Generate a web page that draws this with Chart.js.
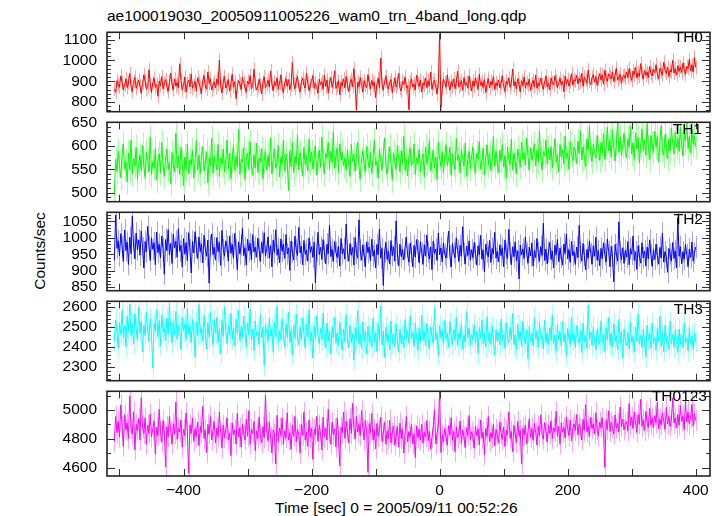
<!DOCTYPE html>
<html><head><meta charset="utf-8">
<script src="https://cdn.jsdelivr.net/npm/chart.js@4/dist/chart.umd.min.js"></script>
<style>
html,body{margin:0;padding:0;background:#fff;}
#wrap{position:relative;width:721px;height:516px;overflow:hidden;font-family:"Liberation Sans",Arial,sans-serif;color:#000;}
.pane{position:absolute;left:0;width:721px;}
.lbl{position:absolute;font-size:15.5px;line-height:1;white-space:nowrap;}
</style></head><body>
<div id="wrap">
<div class="lbl" style="left:107px;top:7.6px;">ae100019030_20050911005226_wam0_trn_4band_long.qdp</div>
<div class="lbl" style="left:40px;top:251px;transform:translate(-50%,-50%) rotate(-90deg);">Counts/sec</div>
<div class="lbl" style="left:275px;top:499.7px;">Time [sec] 0 = 2005/09/11 00:52:26</div>
</div>
<script>
// ---------- data ----------
const timeStart = -508;   // first bin time [s]
const timeStep = 2;       // bin width [s]
const xTickLabels = [-400, -200, 0, 200, 400];

const th0 = [
862,848,903,884,871,926,895,858,880,912,869,891,937,874,850,899,918,866,883,905,
877,842,889,931,902,861,874,955,888,846,893,915,870,884,827,901,879,922,864,890,
908,873,851,896,940,882,859,912,876,893,868,984,903,857,880,921,847,889,906,872,
935,866,881,899,853,917,894,871,840,902,926,877,862,945,889,911,858,880,897,869,
912,884,1002,876,843,895,923,867,881,908,852,889,934,871,898,816,875,903,887,860,
919,894,872,848,901,886,927,863,879,958,891,857,874,910,883,839,897,921,868,885,
904,873,950,886,855,899,878,917,862,891,931,870,846,893,912,876,908,859,882,990,
887,864,901,923,872,849,896,915,881,867,938,890,855,877,903,926,866,892,874,842,
910,884,898,861,929,875,906,843,889,917,870,893,951,865,880,902,834,896,878,912,
868,923,887,850,894,909,873,961,882,762,897,874,918,886,847,903,880,869,932,891,
863,904,879,895,821,888,913,870,1012,884,857,899,925,876,862,894,908,845,883,917,
872,890,939,866,853,901,884,921,868,879,763,897,911,873,886,858,929,892,875,906,
848,893,880,916,869,902,877,944,861,889,905,874,838,897,1130,775,866,910,893,871,
931,885,857,899,876,912,864,890,948,872,883,903,856,918,879,894,867,926,888,853,
902,875,917,889,861,934,880,896,871,908,845,886,913,869,899,882,922,860,893,877,
906,868,891,927,874,852,900,883,916,870,889,959,877,898,863,912,885,849,903,879,
921,867,894,881,909,856,888,904,873,930,866,891,878,915,883,861,897,925,872,890,
859,916,894,881,927,903,870,892,914,883,901,848,925,888,909,876,897,936,882,905,
901,929,887,913,896,938,875,921,908,890,954,902,884,917,931,895,922,880,909,936,
907,931,886,953,916,899,936,922,911,945,898,927,962,904,917,933,890,924,929,914,
945,918,961,927,904,949,932,968,915,940,923,985,936,910,952,929,944,917,971,938,
926,958,941,980,935,912,963,947,929,992,951,938,967,922,955,944,1001,939,960,931,
975,948,969,942,988,957,934,972,961,1006,950,979,944,1015,966];

const th1 = [
497,571,546,589,560,532,578,604,551,566,523,585,548,612,540,573,557,596,529,562,
580,547,601,555,534,587,569,545,619,538,566,552,594,527,571,583,543,607,558,536,
574,592,550,565,519,586,561,544,627,553,579,539,597,563,515,576,549,604,541,570,
559,590,531,568,611,549,581,540,572,598,546,561,588,521,574,557,616,542,578,564,
549,603,535,575,560,593,544,568,612,551,584,530,567,600,547,578,556,636,539,571,
565,596,528,570,585,550,609,559,537,581,553,606,543,574,566,594,529,568,588,548,
580,556,617,540,572,593,552,563,601,534,577,561,612,546,583,567,505,590,555,607,
543,578,562,623,549,585,569,535,597,560,580,546,614,565,587,551,574,600,538,571,
591,554,618,566,541,584,575,607,550,589,565,630,552,579,595,543,604,569,586,558,
573,548,592,561,535,603,567,582,546,577,608,554,529,571,590,562,545,599,568,553,
586,541,575,612,558,567,532,594,570,549,581,617,556,540,573,598,562,527,585,566,
550,601,574,544,589,563,620,548,572,536,580,595,557,566,604,539,575,561,592,545,
569,583,534,598,561,577,611,547,566,590,553,576,528,608,572,556,587,543,579,602,
558,572,596,537,583,562,549,615,568,581,543,592,574,557,606,535,570,588,551,579,
597,561,542,585,573,609,550,566,595,538,577,602,559,584,547,571,620,556,589,565,
543,590,568,603,554,579,531,597,572,560,614,549,585,567,540,593,576,555,608,571,
585,559,617,575,548,596,569,583,604,557,591,566,633,572,549,588,578,612,561,594,
570,598,553,587,615,566,580,544,603,576,592,561,621,573,585,550,609,582,568,597,
589,562,610,584,631,570,598,577,556,615,591,642,580,567,603,588,574,622,595,569,
607,583,626,571,598,640,589,612,576,633,595,568,604,650,586,619,578,601,627,592,
574,615,598,642,583,606,571,628,594,617,563,601,636,589,612,580,647,597,571,622,
604,585,631,597,618,566,609,643,592,580,624,601,572,615,589,638,607,583,629,596,
617,588,640,602,579,626,611,648,594,619,585,634,603,621,598];

const th2 = [
932,1070,968,991,945,1013,973,928,1024,961,987,919,1002,952,1066,975,936,1015,963,994,
947,1021,970,908,989,958,1035,976,931,1000,965,985,918,1018,955,980,939,1006,967,889,
995,961,1025,948,983,922,1011,969,990,941,1028,959,977,911,998,950,986,930,1016,963,
893,990,954,1019,972,937,1003,958,982,924,1008,966,944,993,862,976,1012,949,971,932,
1001,958,986,916,1023,964,944,991,973,929,1006,953,980,938,1014,963,903,988,951,976,
1029,946,970,917,996,960,983,933,1010,957,972,941,999,964,928,988,953,1016,944,968,
1003,939,977,912,993,955,1025,947,967,924,997,959,981,937,1010,951,970,901,990,957,
933,1005,964,946,1032,954,975,918,992,950,963,929,1000,956,973,941,987,863,960,1017,
949,971,934,995,958,921,981,952,1038,943,965,927,989,956,940,974,914,998,951,967,
936,1042,960,929,983,947,971,917,1001,953,938,1055,963,932,979,948,911,988,955,972,
930,996,944,962,908,980,949,1027,938,968,855,957,986,934,959,920,992,946,973,929,
1052,951,915,981,943,965,933,970,1002,947,926,984,958,912,977,941,995,961,924,988,
955,919,979,944,1009,957,936,973,903,990,952,966,931,1015,948,969,927,985,950,938,
971,1021,945,911,983,956,939,1000,962,928,977,944,1034,953,920,975,946,991,932,964,
940,986,953,917,976,949,1008,935,963,896,981,957,942,992,925,968,951,1017,938,959,
927,979,946,970,912,994,952,937,1026,955,918,973,943,988,930,961,875,978,949,966,
938,1003,951,923,972,945,985,914,962,940,998,956,929,974,947,1045,931,966,921,957,
986,934,960,908,978,949,995,927,969,942,917,981,953,1012,936,964,925,989,946,958,
919,972,940,1038,955,929,983,947,903,965,938,991,952,920,976,944,1002,932,961,915,
968,937,985,949,926,997,958,912,974,943,866,980,951,929,1049,956,934,970,922,962,
941,989,918,967,950,1006,931,958,904,976,945,923,985,939,960,914,972,936,994,948,
913,965,934,981,947,920,971,939,1015,926,958,942,895,968,951,929,986,937,960,908,
1062,944,973,921,958,935,981,949,912,966,940,987,929,953,972];

const th3 = [
2428,2536,2471,2395,2522,2463,2584,2448,2507,2401,2553,2479,2615,2456,2518,2413,2566,2492,2437,2601,
2470,2529,2374,2510,2458,2575,2484,2425,2543,2465,2292,2516,2481,2590,2450,2533,2406,2561,2475,2498,
2431,2544,2466,2618,2485,2420,2529,2459,2579,2436,2507,2471,2386,2549,2478,2514,2441,2595,2463,2503,
2421,2538,2474,2347,2526,2455,2612,2469,2500,2429,2557,2462,2388,2521,2446,2573,2480,2409,2532,2467,
2549,2423,2492,2365,2534,2452,2600,2475,2416,2509,2460,2568,2437,2494,2405,2540,2464,2583,2428,2502,
2447,2554,2473,2398,2522,2461,2589,2434,2491,2381,2530,2455,2476,2412,2561,2443,2499,2303,2515,2469,
2430,2546,2453,2491,2371,2523,2450,2605,2424,2482,2439,2542,2461,2400,2518,2446,2575,2421,2487,2359,
2509,2442,2565,2455,2411,2500,2434,2547,2465,2392,2513,2448,2586,2429,2474,2343,2505,2440,2558,2454,
2417,2492,2435,2571,2449,2395,2520,2431,2479,2363,2501,2443,2550,2419,2471,2405,2524,2436,2383,2489,
2428,2563,2441,2394,2510,2422,2468,2333,2497,2434,2581,2413,2462,2390,2526,2430,2478,2363,2505,2421,
2452,2399,2543,2425,2471,2376,2516,2433,2607,2408,2479,2346,2499,2423,2461,2384,2530,2416,2465,2401,
2513,2428,2373,2490,2414,2459,2395,2537,2446,2482,2418,2556,2439,2471,2402,2520,2448,2380,2495,2427,
2560,2433,2476,2406,2518,2442,2389,2501,2457,2419,2593,2436,2468,2355,2508,2445,2482,2411,2533,2439,
2466,2398,2527,2450,2413,2488,2432,2549,2404,2472,2441,2515,2386,2459,2423,2578,2447,2492,2409,2461,
2437,2511,2421,2480,2366,2496,2443,2534,2415,2467,2399,2552,2430,2475,2412,2504,2438,2356,2486,2426,
2473,2408,2540,2431,2462,2392,2521,2446,2418,2498,2437,2568,2410,2459,2385,2512,2433,2477,2401,2529,
2445,2416,2487,2338,2503,2428,2466,2404,2545,2437,2479,2398,2520,2441,2452,2389,2535,2419,2470,2412,
2497,2432,2561,2417,2458,2380,2512,2436,2475,2402,2528,2424,2466,2353,2493,2439,2411,2548,2430,2463,
2396,2507,2442,2418,2480,2371,2519,2425,2458,2392,2610,2437,2473,2404,2500,2429,2386,2489,2446,2414,
2531,2420,2463,2377,2495,2433,2548,2409,2471,2399,2517,2426,2455,2383,2540,2418,2476,2341,2490,2430,
2405,2472,2390,2526,2419,2451,2374,2501,2428,2565,2412,2460,2395,2487,2423,2348,2509,2436,2466,2392,
2519,2417,2448,2382,2493,2426,2554,2401,2467,2375,2508,2421,2452,2389,2530,2414,2462,2397,2486,2432,
2371,2489,2413,2460,2395,2521,2420,2445,2379,2498,2416,2453,2387,2470,2425];

const th0123 = [
4780,4955,4843,4921,4812,5036,4887,4748,4968,4862,4910,4803,5098,4871,4833,4988,4724,4901,4858,4942,
4793,5085,4878,4838,4946,4763,4897,4842,4971,4815,4868,4922,4694,4881,4824,5006,4853,4778,4927,4848,
4605,4886,4817,4957,4852,4764,4906,4833,5055,4798,4877,4847,4931,4743,4866,4822,4981,4852,4562,4897,
4838,4946,4783,4872,4818,4917,4753,4886,4843,5026,4803,4862,4705,4901,4833,4955,4793,4857,4921,4773,
4876,4818,4986,4843,4738,4897,4808,4867,4946,4793,4842,4684,4911,4828,4862,4763,4976,4813,4876,4743,
4901,4833,4793,4936,4818,4996,4763,4867,4838,4921,4718,4857,4803,4951,4828,4773,4886,4808,5104,4847,
4788,4916,4813,4703,4862,4833,4625,4964,4783,4877,4823,4946,4763,4857,4808,4981,4793,4842,4728,4896,
4818,4956,4778,4867,4833,4703,4901,4823,4986,4793,4847,4748,4931,4813,4876,4658,4867,4828,4956,4783,
4896,4838,4723,4951,4813,4876,4793,5006,4842,4763,4916,4828,4871,4743,4946,4818,4614,4881,4843,4986,
4803,4921,4857,4773,4941,4838,5046,4876,4798,4956,4847,4901,4823,4996,4871,4793,4931,4857,4568,4906,
4842,4976,4793,4866,4731,4907,4818,4862,4951,4783,4838,4915,4763,4857,4801,4930,4772,4840,4889,4756,
4823,4885,4744,4910,4801,4867,4702,4838,4956,4779,4851,4812,4902,4765,4833,4671,4890,4808,4867,4792,
4901,4770,4846,4815,4928,4788,4852,4730,4811,4880,5003,4764,4837,4895,5130,4706,4829,4781,4872,4815,
4758,4893,4826,4947,4790,4851,4712,4884,4807,4838,4925,4769,4863,4815,4740,4878,4826,4962,4795,4850,
4813,4735,4889,4822,4870,4758,4931,4804,4846,4690,4873,4818,4956,4781,4842,4807,4901,4752,4866,4830,
4772,4918,4839,4796,4883,4747,4860,4825,4987,4803,4851,4711,4894,4837,4776,4922,4818,4859,4625,4875,
4829,4893,4766,4851,4940,4811,4872,4790,4908,4845,4757,4889,4823,4967,4832,4798,4913,4851,4780,4896,
4838,4925,4801,4877,4852,4992,4819,4886,4763,4912,4846,4879,4807,4953,4868,4822,4931,4785,4875,4903,
4858,4969,4827,4901,4873,4792,4936,4860,5038,4847,4889,4816,4950,4871,4905,4836,4982,4862,4821,4917,
4879,4946,4841,4603,4928,4866,4995,4852,4913,4887,4833,4967,4874,4908,4849,5021,4885,4937,4862,4903,
4921,4857,5045,4893,4950,4872,4986,4910,4845,4968,4902,5074,4886,4933,4859,4991,4917,4878,5012,4896,
4944,4880,4962,4913,5055,4871,4937,4898,4981,4922,4868,5018,4903,4955,4889,4929,5083,4910,4947,4876,
4970,4895,5030,4922,4958,4866,5062,4917,4985,4903,4944,5040,4888,4975,4928];

// typical 1-sigma error of one bin, per band (counts/sec)
const th0Err = 33, th1Err = 27, th2Err = 33, th3Err = 52, th0123Err = 72;

const th0Ticks = [800, 900, 1000, 1100];
const th1Ticks = [500, 550, 600, 650];
const th2Ticks = [850, 900, 950, 1000, 1050];
const th3Ticks = [2300, 2400, 2500, 2600];
const th0123Ticks = [4600, 4800, 5000];
const panelNames = ['TH0', 'TH1', 'TH2', 'TH3', 'TH0123'];

// ---------- layout / style ----------
Chart.defaults.font.family = '"Liberation Sans", Arial, sans-serif';
Chart.defaults.font.size = 15.5;
Chart.defaults.color = '#000';

const X_MIN = -519.5, X_MAX = 422.3;
const PAD = 14;
const panels = [
  {series: th0, err: th0Err, ticks: th0Ticks, min: 753, max: 1136, minor: 20, color: '#ff0000', light: 'rgba(255,70,70,0.5)', top: 27, bottom: 117, lblTop: 28.5, lblRight: 18},
  {series: th1, err: th1Err, ticks: th1Ticks, min: 481, max: 650, minor: 10, color: '#00ff00', light: 'rgba(70,255,70,0.5)', top: 117, bottom: 207, lblTop: 120.5, lblRight: 19},
  {series: th2, err: th2Err, ticks: th2Ticks, min: 839, max: 1078, minor: 10, color: '#0000ff', light: 'rgba(70,70,255,0.5)', top: 207, bottom: 296, lblTop: 210.5, lblRight: 18},
  {series: th3, err: th3Err, ticks: th3Ticks, min: 2229, max: 2629, minor: 20, color: '#00ffff', light: 'rgba(70,255,255,0.5)', top: 296, bottom: 386, lblTop: 300.5, lblRight: 18},
  {series: th0123, err: th0123Err, ticks: th0123Ticks, min: 4543, max: 5130, minor: 100, color: '#ff00ff', light: 'rgba(255,70,255,0.5)', top: 386, bottom: 476, lblTop: 388, lblRight: 14}
];

function makeErrPlugin(p, times) {
  return {
    id: 'errbars',
    beforeDatasetsDraw(chart) {
      const {ctx, chartArea: a} = chart;
      const xs = chart.scales.x, ys = chart.scales.y;
      ctx.save();
      ctx.beginPath();
      ctx.rect(a.left, a.top, a.right - a.left, a.bottom - a.top);
      ctx.clip();
      ctx.strokeStyle = p.light;
      ctx.lineWidth = 1;
      ctx.beginPath();
      p.series.forEach((v, i) => {
        const px = Math.round(xs.getPixelForValue(times[i])) + 0.5;
        ctx.moveTo(px, ys.getPixelForValue(v + p.err));
        ctx.lineTo(px, ys.getPixelForValue(v - p.err));
      });
      ctx.stroke();
      ctx.restore();
    }
  };
}

function makeFramePlugin(p) {
  return {
    id: 'frame',
    afterDatasetsDraw(chart) {
      const {ctx, chartArea: a} = chart;
      const xs = chart.scales.x, ys = chart.scales.y;
      ctx.save();
      ctx.strokeStyle = '#333';
      ctx.lineWidth = 1;
      ctx.beginPath();
      const start = Math.ceil(ys.min / p.minor) * p.minor;
      for (let v = start; v <= ys.max + 1e-9; v += p.minor) {
        const py = Math.round(ys.getPixelForValue(v)) + 0.5;
        const len = p.ticks.includes(v) ? 8 : 4;
        ctx.moveTo(a.left, py); ctx.lineTo(a.left + len, py);
        ctx.moveTo(a.right, py); ctx.lineTo(a.right - len, py);
      }
      for (let t = -500; t <= 400; t += 100) {
        const px = Math.round(xs.getPixelForValue(t)) + 0.5;
        ctx.moveTo(px, a.top); ctx.lineTo(px, a.top + 7);
        ctx.moveTo(px, a.bottom); ctx.lineTo(px, a.bottom - 7);
      }
      ctx.stroke();
      ctx.lineWidth = 1.6;
      ctx.strokeStyle = '#222';
      ctx.strokeRect(a.left, a.top, a.right - a.left, a.bottom - a.top);
      ctx.restore();
    }
  };
}

const wrap = document.getElementById('wrap');
panels.forEach((p, idx) => {
  const last = idx === panels.length - 1;
  const times = p.series.map((_, i) => timeStart + i * timeStep);
  const div = document.createElement('div');
  div.className = 'pane';
  const cTop = p.top - PAD;
  const cH = last ? (516 - cTop) : (p.bottom - p.top + 2 * PAD);
  div.style.top = cTop + 'px';
  div.style.height = cH + 'px';
  const cv = document.createElement('canvas');
  cv.width = 721; cv.height = cH;
  div.appendChild(cv);
  wrap.appendChild(div);

  const lbl = document.createElement('div');
  lbl.className = 'lbl';
  lbl.style.top = p.lblTop + 'px';
  lbl.style.right = p.lblRight + 'px';
  lbl.textContent = panelNames[idx];
  wrap.appendChild(lbl);

  const pts = times.map((t, i) => ({x: t, y: p.series[i]}));
  new Chart(cv, {
    type: 'line',
    data: {
      datasets: [
        {label: panelNames[idx], data: pts, borderColor: p.color, borderWidth: 1, pointRadius: 0, tension: 0}
      ]
    },
    options: {
      responsive: false,
      animation: false,
      devicePixelRatio: 1,
      layout: {padding: {left: 0, right: 11, top: PAD, bottom: last ? 0 : PAD}},
      plugins: {legend: {display: false}, tooltip: {enabled: false}, title: {display: false}},
      scales: {
        x: {
          type: 'linear', min: X_MIN, max: X_MAX, display: last,
          grid: {display: false, drawTicks: false}, border: {display: false},
          afterBuildTicks: s => { s.ticks = xTickLabels.map(v => ({value: v})); },
          afterFit: s => { s.height = last ? 40 : 0; },
          ticks: {autoSkip: false, maxRotation: 0, padding: 5,
            callback: v => (v < 0 ? '\u2212' + Math.abs(v) : String(v))}
        },
        y: {
          type: 'linear', min: p.min, max: p.max,
          grid: {display: false, drawTicks: false}, border: {display: false},
          afterBuildTicks: s => { s.ticks = p.ticks.map(v => ({value: v})); },
          afterFit: s => { s.width = 107; },
          ticks: {autoSkip: false, padding: 10, callback: v => String(v)}
        }
      }
    },
    plugins: [makeErrPlugin(p, times), makeFramePlugin(p)]
  });
});
</script>
</body></html>
